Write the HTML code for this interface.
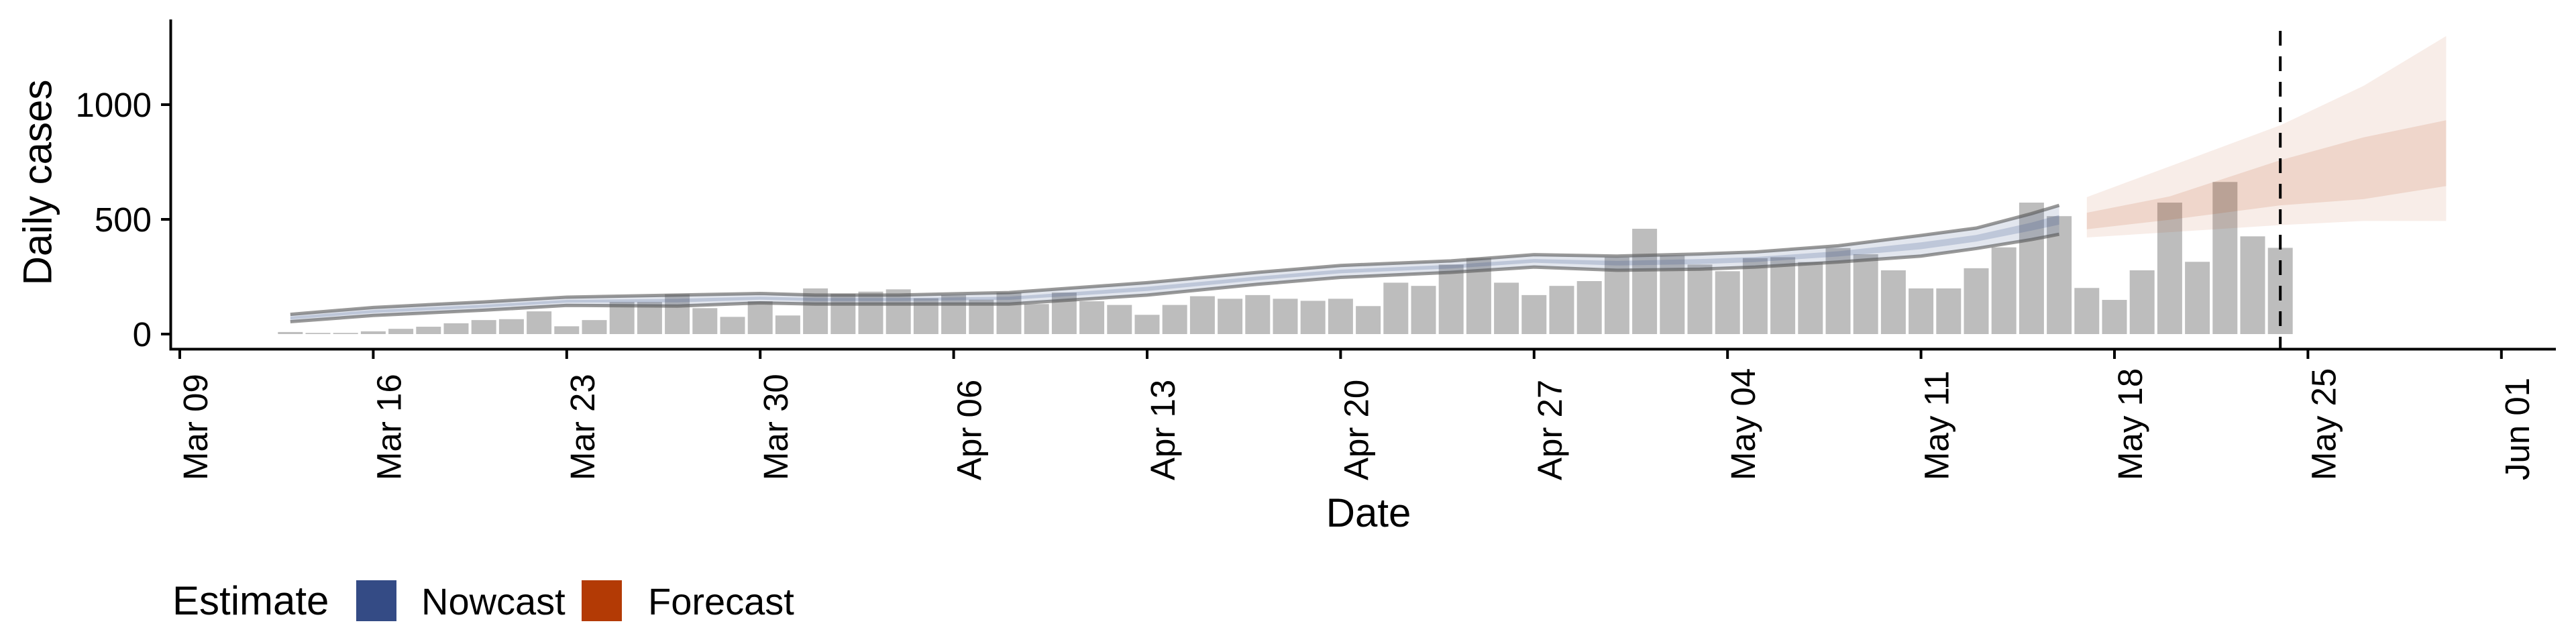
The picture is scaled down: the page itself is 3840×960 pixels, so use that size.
<!DOCTYPE html>
<html><head><meta charset="utf-8"><style>
html,body{margin:0;padding:0;background:#fff;}
svg{display:block;font-family:"Liberation Sans",Arial,sans-serif;}
</style></head><body>
<svg id="chart" width="3840" height="960" viewBox="0 0 3840 960">
<g id="bars"></g>
<g id="bands"></g>
<g id="axes"></g>
<text x="56" y="272" font-size="60" text-anchor="middle" dominant-baseline="central" transform="rotate(-90 56 272)">Daily cases</text>
<text x="2040" y="785" font-size="60" text-anchor="middle">Date</text>
<g>
<text x="257" y="916" font-size="60">Estimate</text>
<rect x="531" y="865" width="60" height="61" fill="#344b85"/>
<text x="628" y="916" font-size="56">Nowcast</text>
<rect x="867" y="865" width="60" height="61" fill="#b33a05"/>
<text x="966" y="916" font-size="56">Forecast</text>
</g>
</svg>
<script>
// ---- data ----
const barStartDay = 4; // Mar 13 (days since Mar 09)
const barValues = [9,5,5,12,23,32,47,61,65,99,34,61,140,140,174,113,75,143,81,199,176,185,195,156,170,150,181,131,181,143,127,84,127,165,154,170,154,145,154,122,224,210,303,331,224,170,210,231,335,459,342,303,274,331,335,314,375,348,278,199,199,287,378,573,514,201,149,278,573,315,663,426,376];
const nowDays   = [4,7,11,14,18,21,23,26,30,35,39,42,46,49,52,55,57,60,63,65,67,68];
const nowUp90   = [86,116,140,161,170,177,170,170,181,224,269,299,319,346,340,349,358,385,430,462,525,561];
const nowLo90   = [54,81,104,125,122,136,131,131,131,170,217,247,269,292,278,283,292,314,340,373,412,435];
const nowUp50   = [76,105,128,149,154,163,157,157,163,206,251,281,302,327,319,327,336,361,400,432,486,519];
const nowLo50   = [64,92,116,137,138,150,144,144,149,188,235,265,286,311,299,305,314,338,370,403,451,477];
const fcDays    = [69,72,76,79,82];
const fcUp90    = [597,731,910,1081,1299];
const fcLo90    = [421,444,475,493,493];
const fcUp50    = [529,600,758,857,932];
const fcLo50    = [457,498,561,588,645];
const yTicks    = [0,500,1000];
const xTickDays = [0,7,14,21,28,35,42,49,56,63,70,77,84];
const xTickLabels = ["Mar 09","Mar 16","Mar 23","Mar 30","Apr 06","Apr 13","Apr 20","Apr 27","May 04","May 11","May 18","May 25","Jun 01"];
const cutoffDay = 76;

// ---- scales ----
const X0 = 268, DAY = 41.2, Y0 = 498, YPER = 0.342;
const xs = d => X0 + d * DAY;
const ys = v => Y0 - v * YPER;
const NS = "http://www.w3.org/2000/svg";
function mk(tag, attrs, parent){const e=document.createElementNS(NS,tag);for(const k in attrs)e.setAttribute(k,attrs[k]);parent.appendChild(e);return e;}

const gBars = document.getElementById('bars');
barValues.forEach((v,i)=>{
  const d = barStartDay + i;
  const r = mk('rect',{x:xs(d)-18.5,y:ys(v),width:37,height:Y0-ys(v),fill:'#bdbdbd'},gBars);
  
  
});

const gB = document.getElementById('bands');
function band(days, up, lo, fill, op, name){
  let pts = days.map((d,i)=>xs(d)+','+ys(up[i]));
  for(let i=days.length-1;i>=0;i--) pts.push(xs(days[i])+','+ys(lo[i]));
  const p = mk('polygon',{points:pts.join(' '),fill:fill,'fill-opacity':op},gB);
  
  
}
function line(days, vals, name){
  const p = mk('polyline',{points:days.map((d,i)=>xs(d)+','+ys(vals[i])).join(' '),fill:'none',stroke:'#555','stroke-opacity':0.6,'stroke-width':5},gB);
  
  
}
band(nowDays,nowUp90,nowLo90,'#344b85',0.14,'nowcast-band-90');
band(nowDays,nowUp50,nowLo50,'#344b85',0.2,'nowcast-band-50');
line(nowDays,nowUp90,'nowcast-upper-line');
line(nowDays,nowLo90,'nowcast-lower-line');
band(fcDays,fcUp90,fcLo90,'#b33a05',0.09,'forecast-band-90');
band(fcDays,fcUp50,fcLo50,'#b33a05',0.13,'forecast-band-50');

const gA = document.getElementById('axes');
const vl = mk('line',{x1:xs(cutoffDay),x2:xs(cutoffDay),y1:46,y2:520,stroke:'#000','stroke-width':4,'stroke-dasharray':'22 16'},gA);


const ya = mk('line',{x1:254.5,x2:254.5,y1:29,y2:522,stroke:'#000','stroke-width':4},gA);


const xa = mk('line',{x1:252.5,x2:3810,y1:520.5,y2:520.5,stroke:'#000','stroke-width':4},gA);


yTicks.forEach(v=>{
  const t = mk('line',{x1:240,x2:254,y1:ys(v),y2:ys(v),stroke:'#000','stroke-width':4},gA);
  
  
  const l = mk('text',{x:226,y:ys(v)+18,'font-size':51,'text-anchor':'end'},gA);
  l.textContent = v;
  
  
});
xTickDays.forEach((d,i)=>{
  const x = xs(d);
  const t = mk('line',{x1:x,x2:x,y1:520,y2:535,stroke:'#000','stroke-width':4},gA);
  
  
  const bx = x + 41, by = 716;
  const l = mk('text',{x:bx,y:by,'font-size':51,'text-anchor':'start',transform:'rotate(-90 '+bx+' '+by+')'},gA);
  l.textContent = xTickLabels[i];
  
  
});
</script>
</body></html>
